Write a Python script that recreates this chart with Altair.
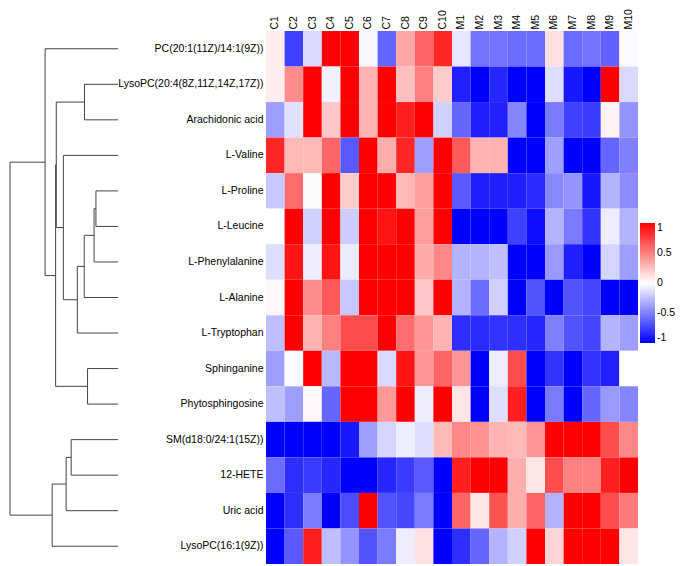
import altair as alt
import pandas as pd

metabolites = [
    "PC(20:1(11Z)/14:1(9Z))", "LysoPC(20:4(8Z,11Z,14Z,17Z))", "Arachidonic acid",
    "L-Valine", "L-Proline", "L-Leucine", "L-Phenylalanine", "L-Alanine",
    "L-Tryptophan", "Sphinganine", "Phytosphingosine", "SM(d18:0/24:1(15Z))",
    "12-HETE", "Uric acid", "LysoPC(16:1(9Z))",
]
samples = ["C1", "C2", "C3", "C4", "C5", "C6", "C7", "C8", "C9", "C10",
           "M1", "M2", "M3", "M4", "M5", "M6", "M7", "M8", "M9", "M10"]

pc = [0.07, -0.75, -0.15, 1, 1, -0.03, -0.6, 0.35, 0.6, 0.85, -0.1, -0.55, -0.55, -0.58, -0.58, 0.12, -0.58, -0.55, -0.62, -0.02]
lysopc204 = [0.07, 0.45, 1, -0.06, 1, 0.3, 1, 0.25, 0.5, 0.2, -0.87, -1, -0.85, -1, -1, -0.13, -0.9, -1, 1, -0.15]
arachidonic = [-0.38, -0.12, 1, 0.22, 1, 0.3, 1, 0.88, 1, -0.18, -0.6, -0.88, -0.87, -0.48, -1, -0.52, -0.75, -0.77, 0.05, -0.42]
valine = [0.85, 0.28, 0.28, 0.6, -0.65, 1, 0.32, 0.85, -0.38, 1, 0.65, 0.3, 0.3, -1, -1, -0.38, -1, -1, -0.6, -0.5]
proline = [-0.22, 0.58, -0.01, 1, 0.2, 1, 1, 0.28, 0.38, 1, -0.65, -0.88, -0.88, -0.88, -0.83, -0.47, -0.42, -0.9, -0.3, -0.45]
leucine = [0, 1, -0.18, 1, -0.2, 1, 0.92, 1, 0.38, 1, -1, -1, -1, -0.75, -0.95, -0.3, -0.52, -0.8, -0.07, -0.3]
phenylalanine = [-0.13, 0.92, -0.07, 0.92, -0.08, 1, 1, 1, 0.33, 0.47, -0.3, -0.3, -0.25, -1, -1, -0.4, -0.88, -1, -0.17, -0.38]
alanine = [0.03, 1, 0.45, 0.65, -0.22, 1, 1, 1, 0.22, 1, -0.3, -0.58, -0.18, -1, -0.68, -1, -0.68, -0.73, -1, -1]
tryptophan = [-0.25, 1, 0.3, 0.5, 0.7, 0.7, 1, 0.57, 0.42, 0.3, -0.82, -0.83, -0.8, -0.82, -0.85, -0.5, -0.68, -0.73, -0.3, -0.38]
sphinganine = [-0.38, -0.02, 1, -0.28, 1, 1, -0.15, 0.92, 0.42, 0.6, 0.42, -1, -0.07, 0.7, -1, -0.8, -1, -0.8, -0.87, 0]
phytosphingosine = [-0.25, -0.38, 0.03, -0.6, 1, 1, 0.4, 1, -0.07, 1, 0.1, -1, -0.13, 0.88, -1, -0.52, -1, -0.6, -0.4, -0.48]
sm = [-1, -1, -1, -1, -0.9, -0.38, -0.17, -0.07, -0.13, 0.28, 0.47, 0.43, 0.3, 0.28, 0.42, 1, 1, 1, 0.7, 0.47]
hete12 = [-0.58, -0.82, -0.77, -0.85, -1, -1, -0.85, -0.77, -0.65, -1, 0.88, 1, 1, 0.32, 0.1, 0.7, 0.5, 0.5, 0.88, 1]
uric = [-1, -0.82, -0.52, -1, -0.7, 1, -0.68, -0.72, -0.52, -1, 0.6, 0.1, 0.68, 0.32, 0.6, -0.3, 1, 1, 0.7, 0.52]
lysopc161 = [-1, -0.65, 0.88, -0.25, -0.42, -0.68, -0.52, -0.07, 0.12, -1, -0.82, -0.6, -0.3, -0.18, 1, 0.17, 1, 1, 1, 0.1]

row_values = [pc, lysopc204, arachidonic, valine, proline, leucine, phenylalanine,
              alanine, tryptophan, sphinganine, phytosphingosine, sm, hete12, uric, lysopc161]

legend_ticks = [-1, -0.5, 0, 0.5, 1]

# hierarchical clustering merges: (child a, child b, height); leaves 0..14, new nodes 15..
merges = [
    (1, 2, 36.0),
    (4, 5, 23.7),
    (16, 6, 25.7),
    (17, 7, 36.3),
    (18, 8, 43.7),
    (3, 19, 58.7),
    (9, 10, 32.7),
    (15, 20, 66.3),
    (22, 21, 67.0),
    (0, 23, 78.3),
    (11, 12, 50.3),
    (25, 13, 55.7),
    (26, 14, 70.7),
    (24, 27, 116.0),
]

heat_rows = []
for name, vals in zip(metabolites, row_values):
    for s, v in zip(samples, vals):
        heat_rows.append({"metabolite": name, "sample": s, "value": v})
heat_df = pd.DataFrame(heat_rows)

pos = {i: i + 0.5 for i in range(len(metabolites))}
hgt = {i: 0.0 for i in range(len(metabolites))}
segs = []
for k, (a, b, h) in enumerate(merges):
    node = len(metabolites) + k
    segs.append({"x": h, "x2": h, "y": pos[a], "y2": pos[b]})
    segs.append({"x": hgt[a], "x2": h, "y": pos[a], "y2": pos[a]})
    segs.append({"x": hgt[b], "x2": h, "y": pos[b], "y2": pos[b]})
    pos[node] = (pos[a] + pos[b]) / 2
    hgt[node] = h
seg_df = pd.DataFrame(segs)

H = 533
max_h = merges[-1][2]

dendro = alt.Chart(seg_df).mark_rule(color="#444444", strokeWidth=1).encode(
    x=alt.X("x:Q", scale=alt.Scale(domain=[0, max_h], reverse=True, nice=False, zero=False), axis=None),
    x2="x2:Q",
    y=alt.Y("y:Q", scale=alt.Scale(domain=[0, len(metabolites)], reverse=True, nice=False, zero=False), axis=None),
    y2="y2:Q",
).properties(width=108, height=H)

heat = alt.Chart(heat_df).mark_rect().encode(
    x=alt.X("sample:N", sort=samples, title=None,
            scale=alt.Scale(paddingInner=0, paddingOuter=0),
            axis=alt.Axis(orient="top", labelAngle=270, labelAlign="left", labelBaseline="middle",
                          ticks=False, domain=False, labelPadding=2)),
    y=alt.Y("metabolite:N", sort=metabolites, title=None,
            scale=alt.Scale(paddingInner=0, paddingOuter=0),
            axis=alt.Axis(ticks=False, domain=False, labelPadding=3, labelLimit=400)),
    color=alt.Color("value:Q",
                    scale=alt.Scale(domain=[-1, 0, 1], range=["#0000ff", "#ffffff", "#ff0000"],
                                    clamp=True, interpolate="rgb"),
                    legend=alt.Legend(title=None, orient="none", legendX=630, legendY=192, padding=0,
                                      direction="vertical", gradientLength=120, gradientThickness=15,
                                      gradientStrokeWidth=0, values=legend_ticks,
                                      labelFontSize=10.5, labelOffset=2, labelColor="#000000",
                                      labelExpr="replace(format(datum.value, '~g'), '\u2212', '-')")),
).properties(width=372, height=H)

chart = alt.hconcat(dendro, heat, spacing=148, bounds="flush").properties(
    padding={"left": 1, "top": 0, "right": 0, "bottom": 0}
).configure(font="Liberation Sans").configure_axis(
    labelFontSize=10.5, labelColor="#000000", labelFont="Liberation Sans"
).configure_legend(labelFont="Liberation Sans").configure_view(stroke=None)

chart.save("out.html", embed_options={"renderer": "svg", "actions": False})
